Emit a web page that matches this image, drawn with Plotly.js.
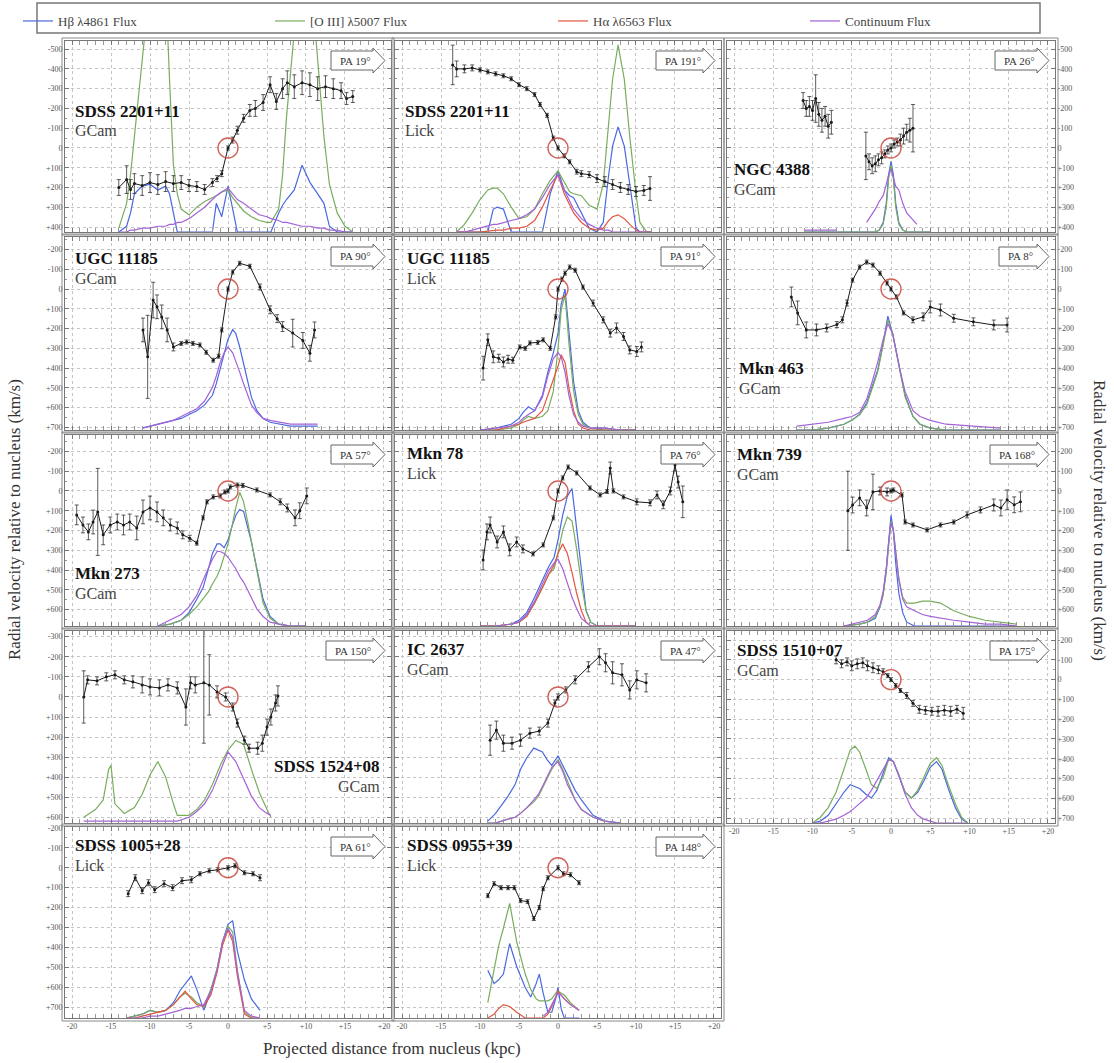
<!DOCTYPE html>
<html><head><meta charset="utf-8">
<script src="https://cdn.plot.ly/plotly-3.0.1.min.js"></script>
<style>html,body{margin:0;padding:0;background:#fff}#chart{width:1114px;height:1063px}</style>
</head><body><div id="chart"></div>
<script>
// ---------------- DATA ----------------
const galaxyNames = ["SDSS 2201+11","SDSS 2201+11","NGC 4388","UGC 11185","UGC 11185","Mkn 463","Mkn 273","Mkn 78","Mkn 739","SDSS 1524+08","IC 2637","SDSS 1510+07","SDSS 1005+28","SDSS 0955+39"];
const instruments = ["GCam","Lick","GCam","GCam","Lick","GCam","GCam","Lick","GCam","GCam","GCam","GCam","Lick","Lick"];
const paLabels = ["PA 19°","PA 191°","PA 26°","PA 90°","PA 91°","PA 8°","PA 57°","PA 76°","PA 168°","PA 150°","PA 47°","PA 175°","PA 61°","PA 148°"];
const legendNames = ["Hβ λ4861 Flux","[O III] λ5007 Flux","Hα λ6563 Flux","Continuum Flux"];
const xTickVals = [-20,-15,-10,-5,0,5,10,15,20];
const xTickText = ["-20","-15","-10","-5","0","+5","+10","+15","+20"];
const nucleusX = [0];
const nucleusV = [0];

// Panel 1: SDSS 2201+11 GCam
const p1_vx = [-14,-13,-12.5,-12,-11,-10,-9,-8,-7,-6,-5,-4,-3,-2,-1.4,-0.8,0,0.6,1.2,2,2.8,3.5,4.5,5.4,6.2,7,7.6,8.5,9.5,10.5,11.5,12.5,13.5,14.5,15.2,16];
const p1_v = [200,160,210,180,190,175,185,170,180,175,190,195,210,175,155,130,0,-40,-90,-150,-190,-200,-230,-320,-235,-300,-330,-310,-330,-320,-300,-310,-300,-290,-250,-260];
const p1_err = [40,70,50,50,50,50,50,50,40,35,30,25,25,20,15,15,10,15,20,20,30,40,40,40,40,50,60,60,60,60,60,55,50,40,30,30];
const p1_fx = [-14,-13,-12.5,-12,-11,-10,-9,-8,-7.5,-7,-6.5,-6,-5,-4,-3,-2,-1.5,-0.8,0,0.6,1.2,2,3,4,5,5.5,6.5,7,7.5,8.5,9.5,10.5,11.5,12.3,13,14,15,16];
const p1_hb = [0,0.03,0.1,0.2,0.24,0.25,0.22,0.24,0.2,0.1,0,0,0,0,0,0,0.15,0.08,0.24,0.12,0,0,0,0,0,0,0.1,0.14,0.17,0.22,0.35,0.26,0.2,0.15,0.03,0,0,0];
const p1_o3 = [0.02,0.15,0.3,0.5,0.9,1.3,1.5,1.3,0.8,0.35,0.2,0.12,0.09,0.13,0.16,0.18,0.19,0.21,0.22,0.18,0.15,0.11,0.08,0.06,0.05,0.05,0.12,0.3,0.6,1.2,1.5,1.4,0.9,0.5,0.25,0.1,0.03,0];
const p1_cont = [0,0,0.01,0.01,0.02,0.02,0.03,0.03,0.04,0.04,0.05,0.05,0.07,0.1,0.13,0.17,0.19,0.21,0.23,0.2,0.17,0.15,0.12,0.09,0.08,0.07,0.06,0.05,0.05,0.04,0.03,0.03,0.02,0.02,0.01,0.01,0,0];

// Panel 2: SDSS 2201+11 Lick
const p2_vx = [-13.5,-13,-12,-11,-10,-9,-8,-7,-6,-5,-4,-3,-2.3,-1.4,-0.6,0,0.8,1.5,2.4,3,4,5,6,7,8,9,10,11,11.8];
const p2_v = [-420,-400,-400,-405,-395,-385,-375,-365,-350,-320,-300,-270,-220,-165,-50,0,40,70,120,130,135,155,170,185,200,210,220,215,205];
const p2_err = [100,40,20,15,10,10,10,10,10,10,10,10,10,10,10,10,10,10,12,15,15,20,25,25,25,25,25,25,60];
const p2_fx = [-13,-12,-11,-10,-9,-8.3,-7.8,-7,-6,-5,-4,-3,-2,-1,0,0.8,1.5,2,3,4,5,5.8,6.5,7,7.7,8.5,9.2,10,10.5,11.4,12];
const p2_o3 = [0,0.04,0.1,0.17,0.22,0.23,0.23,0.2,0.13,0.07,0.08,0.12,0.2,0.27,0.32,0.26,0.21,0.2,0.19,0.14,0.12,0.25,0.55,0.8,0.98,0.8,0.5,0.2,0.05,0,0];
const p2_hb = [0,0,0,0,0,0.12,0.13,0.12,0,0,0,0,0,0.2,0.32,0.22,0.19,0.18,0.1,0.02,0,0.05,0.3,0.45,0.55,0.45,0.25,0.02,0,0,0];
const p2_ha = [0,0,0,0,0.005,0.01,0.01,0.01,0.02,0.02,0.03,0.06,0.13,0.22,0.3,0.2,0.14,0.1,0.05,0.02,0.01,0.02,0.06,0.08,0.09,0.07,0.04,0.01,0,0,0];
const p2_cont = [0,0,0.01,0.02,0.03,0.04,0.04,0.05,0.06,0.07,0.09,0.12,0.18,0.25,0.3,0.22,0.16,0.12,0.07,0.04,0.02,0.01,0.01,0,0,0,0,0,0,0,0];

// Panel 3: NGC 4388 GCam
const p3_vx = [-11.2,-10.8,-10.4,-10,-9.6,-9.2,-8.8,-8.4,-8,-7.6,-5.4,-3.2,-2.8,-2.4,-2,-1.6,-1.2,-0.8,-0.4,0,0.4,0.8,1.2,1.6,2,2.4,2.8];
const p3_v = [-240,-200,-210,-190,-250,-170,-140,-160,-110,-130,null,40,70,90,80,60,50,30,10,0,-20,-30,-40,-60,-80,-90,-100];
const p3_err = [40,40,50,50,120,60,60,50,60,60,0,120,40,40,40,30,30,20,20,20,20,20,30,40,40,60,120];
const p3_fx = [-11,-9,-7,-5,-3.1,-2,-1.5,-1,-0.6,-0.3,0,0.3,0.6,1,1.5,2,3.3,5];
const p3_hb = [0,0,0,0,0,0,0.01,0.05,0.15,0.3,0.37,0.3,0.15,0.05,0.01,0,0,0];
const p3_o3 = [0,0,0,0,0,0,0.01,0.04,0.13,0.28,0.35,0.28,0.13,0.04,0.01,0,0,0];
const p3_cont = [0.01,0.01,0.01,null,0.05,0.12,0.16,0.19,0.25,0.3,0.33,0.28,0.24,0.22,0.15,0.1,0.04,null];

// Panel 4: UGC 11185 GCam
const p4_vx = [-10.9,-10.3,-9.6,-9.1,-8.5,-7.8,-7,-6,-5.3,-4.5,-3.6,-2.8,-1.9,-1.2,-0.8,0,0.6,1.5,2.8,4.1,5.4,6.3,7,8.3,9.6,10.5,11.1];
const p4_v = [207,343,56,90,141,207,293,275,268,275,283,320,360,340,207,0,-86,-130,-115,-10,105,150,190,223,260,325,207];
const p4_err = [60,210,90,60,60,60,20,10,10,10,10,10,10,10,10,10,10,10,10,15,20,20,25,70,40,40,40];
const p4_fx = [-11,-10,-9,-8,-7,-6,-5,-4,-3,-2,-1.5,-1,-0.5,0,0.6,1,1.5,2,2.5,3,3.7,4.5,5.4,6.5,8,10,11.5];
const p4_hb = [0.01,0.02,0.03,0.04,0.05,0.06,0.08,0.1,0.13,0.18,0.24,0.32,0.4,0.47,0.52,0.5,0.43,0.34,0.25,0.17,0.1,0.06,0.04,0.03,0.02,0.02,0.02];
const p4_cont = [0.01,0.02,0.03,0.04,0.05,0.07,0.09,0.11,0.15,0.22,0.28,0.35,0.4,0.43,0.4,0.36,0.3,0.24,0.18,0.13,0.09,0.06,0.05,0.04,0.03,0.03,0.03];

// Panel 5: UGC 11185 Lick
const p5_vx = [-9.6,-9,-8.3,-7.6,-7,-6.4,-5.8,-4.9,-4.2,-3.6,-2.6,-1.9,-1,-0.3,0,0.5,0.9,1.5,2.2,3.2,4.5,5.8,6.7,7.5,8.4,9.2,10.1,10.7];
const p5_v = [400,257,343,350,369,355,360,293,300,273,270,257,300,141,0,-50,-80,-111,-95,-10,71,156,223,197,240,308,316,293];
const p5_err = [60,30,30,20,25,20,15,10,10,10,10,10,10,10,10,10,10,10,10,10,15,15,20,25,20,20,25,25];
const p5_fx = [-10,-8,-6,-5,-4.5,-3.8,-3,-2,-1.3,-0.6,0,0.4,0.9,1.4,2,2.6,3.2,4.1,6,8,10];
const p5_hb = [0,0.01,0.03,0.06,0.09,0.12,0.1,0.18,0.3,0.4,0.5,0.65,0.73,0.5,0.25,0.1,0.04,0.01,0.01,0,0];
const p5_o3 = [0,0,0.01,0.03,0.05,0.07,0.06,0.07,0.1,0.2,0.42,0.62,0.7,0.45,0.2,0.08,0.03,0.01,0,0,0];
const p5_ha = [0,0,0.02,0.03,0.04,0.05,0.06,0.1,0.18,0.25,0.33,0.39,0.35,0.22,0.1,0.03,0.01,0,0,0,0];
const p5_cont = [0,0.01,0.02,0.04,0.06,0.08,0.1,0.17,0.28,0.37,0.4,0.38,0.3,0.18,0.08,0.04,0.02,0.01,0.01,0,0];

// Panel 6: Mkn 463 GCam
const p6_vx = [-12.7,-11.9,-10.8,-9.5,-8.2,-6.9,-6.2,-5.6,-4.9,-4,-3.1,-2.3,-1.4,-0.5,0,0.7,1.6,2.8,4.1,5,6.3,8,10.5,13.1,14.8];
const p6_v = [40,121,207,207,197,180,156,71,-45,-111,-136,-121,-80,-30,0,40,121,156,141,91,106,148,166,182,182];
const p6_err = [50,60,40,30,20,15,15,15,10,10,10,10,10,10,10,10,10,15,20,30,30,20,20,25,35];
const p6_fx = [-12,-10,-8,-6,-5,-4,-3.1,-2.4,-1.7,-1,-0.4,0.2,0.8,1.2,1.8,2.8,3.7,5,7,10,14];
const p6_hb = [0,0,0.01,0.03,0.05,0.08,0.14,0.22,0.31,0.45,0.59,0.5,0.38,0.31,0.18,0.07,0.03,0.01,0,0,0];
const p6_o3 = [0,0,0.01,0.03,0.05,0.08,0.13,0.21,0.3,0.44,0.57,0.5,0.37,0.3,0.17,0.07,0.03,0.01,0,0,0];
const p6_cont = [0.02,0.03,0.04,0.06,0.07,0.09,0.16,0.25,0.35,0.47,0.55,0.5,0.38,0.3,0.2,0.1,0.07,0.05,0.03,0.02,0.01];

// Panel 7: Mkn 273 GCam
const p7_vx = [-19.4,-18.6,-17.9,-17.3,-16.7,-16,-15.1,-14.2,-13.4,-12.6,-11.7,-10.9,-10,-9.1,-8.3,-7.4,-6.5,-5.8,-4.9,-4,-3.2,-2.7,-1.9,-1,-0.4,0,0.3,1.2,1.9,3.7,5.4,6.7,7.6,8.6,9.2,10.1];
const p7_v = [121,172,207,157,106,222,172,157,172,157,187,106,86,106,136,172,187,222,239,264,136,55,30,25,5,0,-20,-30,-28,-5,20,55,86,136,100,25];
const p7_err = [50,40,40,60,220,50,40,40,50,40,60,60,60,50,40,30,30,20,15,10,10,10,10,10,10,10,10,10,10,10,10,15,20,40,40,40];
const p7_fx = [-9,-7.4,-6,-5,-4,-3.2,-2.5,-2,-1.4,-1,-0.5,0,0.5,1,1.5,2,2.5,3,3.7,4.5,5.4,6.5,8,10];
const p7_o3 = [0,0.01,0.03,0.06,0.1,0.14,0.18,0.22,0.26,0.3,0.36,0.43,0.52,0.62,0.7,0.65,0.55,0.44,0.28,0.12,0.04,0.01,0,0];
const p7_hb = [0,0.01,0.03,0.07,0.14,0.2,0.3,0.38,0.43,0.43,0.41,0.45,0.52,0.58,0.61,0.6,0.52,0.44,0.3,0.14,0.05,0.01,0,0];
const p7_cont = [0,0.03,0.06,0.1,0.16,0.24,0.3,0.35,0.39,0.39,0.38,0.36,0.33,0.3,0.26,0.23,0.19,0.15,0.09,0.05,0.02,0.01,0,0];

// Panel 8: Mkn 78 Lick
const p8_vx = [-9.6,-9.1,-8.7,-7.8,-7,-6.2,-5.3,-4.5,-3.2,-1.9,-0.6,0,0.6,1.3,2.4,4.1,5.4,6.3,6.7,7.1,8.4,10.1,11.8,12.7,13.5,14.4,15,15.4,16];
const p8_v = [349,207,172,258,207,298,258,293,318,273,136,0,-66,-121,-91,-15,20,3,-116,0,30,55,60,20,70,0,-131,-45,55];
const p8_err = [50,40,40,30,30,30,25,20,10,10,10,10,10,10,10,10,10,10,30,10,10,15,15,20,20,20,30,30,80];
const p8_fx = [-10,-8,-6,-5,-4,-3,-2,-1.2,-0.5,0,0.6,1.2,1.8,2.4,3,3.6,4.2,5,7,10];
const p8_hb = [0,0,0.01,0.03,0.07,0.15,0.24,0.31,0.36,0.45,0.58,0.68,0.72,0.5,0.27,0.08,0.02,0,0,0];
const p8_o3 = [0,0,0.01,0.02,0.05,0.12,0.2,0.27,0.3,0.38,0.5,0.57,0.55,0.4,0.22,0.08,0.02,0,0,0];
const p8_ha = [0,0,0.01,0.02,0.05,0.12,0.2,0.27,0.32,0.38,0.43,0.38,0.28,0.17,0.08,0.02,0,0,0,0];
const p8_cont = [0,0,0.01,0.02,0.06,0.13,0.22,0.29,0.33,0.35,0.3,0.22,0.15,0.09,0.04,0.02,0,0,0,0];

// Panel 9: Mkn 739 GCam
const p9_vx = [-5.5,-4.9,-4,-3.1,-2.3,-1.4,-0.5,0,0.3,1.4,1.8,2.8,4.6,6.3,8,9.7,11.4,13.1,14,14.8,15.7,16.5];
const p9_v = [100,71,35,86,5,0,5,0,-5,20,157,172,197,172,157,121,96,71,86,45,70,55];
const p9_err = [200,40,40,40,90,20,20,10,10,10,10,10,10,10,10,15,15,30,40,50,40,50];
const p9_fx = [-6,-4,-3,-2,-1.4,-1,-0.6,-0.3,0,0.3,0.6,1,1.5,2,3,4,5,6.3,8,10,12,14,16];
const p9_hb = [0,0.01,0.02,0.04,0.1,0.17,0.3,0.45,0.58,0.5,0.33,0.17,0.07,0.02,0,0,0,0,0,0,0,0,0];
const p9_o3 = [0,0.01,0.02,0.05,0.1,0.16,0.28,0.42,0.55,0.5,0.38,0.25,0.15,0.12,0.12,0.13,0.13,0.12,0.08,0.05,0.03,0.02,0.01];
const p9_cont = [0,0.02,0.03,0.06,0.11,0.18,0.3,0.44,0.54,0.5,0.38,0.24,0.14,0.1,0.08,0.06,0.05,0.04,0.03,0.02,0.01,0.01,0];

// Panel 10: SDSS 1524+08 GCam
const p10_vx = [-18.5,-18,-16.8,-15.6,-14.5,-13.3,-12.2,-11,-10,-8.8,-7.7,-6.5,-5.4,-4.8,-4.2,-3.1,-2.4,-1.4,-0.3,0.6,1.2,2.1,2.7,3.8,4.4,5,5.5,6.1,6.4];
const p10_v = [0,-85,-80,-100,-110,-85,-75,-60,-50,-45,-60,-45,50,-70,-60,-70,-60,-25,0,50,130,215,255,255,230,150,100,30,-5];
const p10_err = [130,20,20,20,20,20,30,40,40,40,30,30,90,30,40,300,150,30,20,20,20,20,20,30,40,40,40,40,50];
const p10_fx = [-18.5,-17,-16,-15.3,-15,-14.5,-13.3,-12,-11,-10,-9,-8,-7,-6.5,-5,-4,-3,-2,-1,0,1,2,3,4,5,5.5];
const p10_o3 = [0.03,0.07,0.12,0.28,0.3,0.1,0.05,0.08,0.15,0.25,0.32,0.24,0.1,0.04,0.04,0.07,0.12,0.2,0.3,0.38,0.43,0.41,0.28,0.16,0.07,0.03];
const p10_cont = [0.01,0.01,0.01,0.01,0.01,0.01,0.01,0.01,0.01,0.01,0.01,0.01,0.01,0.01,0.03,0.06,0.1,0.17,0.27,0.37,0.32,0.23,0.14,0.08,0.05,0.04];

// Panel 11: IC 2637 GCam
const p11_vx = [-8.7,-7.9,-7,-5.9,-4.8,-3.6,-2.4,-1.3,-0.4,0,1,2.2,3.9,5.3,6.1,7,8.2,9.2,10.1,11.3];
const p11_v = [215,165,230,230,215,180,170,130,30,0,-35,-85,-150,-200,-170,-120,-110,-35,-85,-70];
const p11_err = [75,45,40,30,30,25,20,20,15,15,15,20,25,40,45,55,55,45,45,45];
const p11_fx = [-9,-8,-6.4,-5.5,-4.8,-4,-3.1,-2.5,-2,-1.4,-0.8,0,0.6,1.2,2.2,3,4.5,6,8];
const p11_hb = [0.01,0.05,0.14,0.2,0.28,0.34,0.39,0.38,0.37,0.33,0.3,0.35,0.3,0.25,0.17,0.12,0.04,0.01,0];
const p11_o3 = [0,0,0.02,0.03,0.05,0.08,0.11,0.14,0.18,0.23,0.28,0.33,0.28,0.22,0.12,0.07,0.03,0.01,0];
const p11_cont = [0,0,0.02,0.03,0.05,0.08,0.12,0.15,0.19,0.24,0.29,0.32,0.27,0.2,0.12,0.07,0.03,0.01,0];

// Panel 12: SDSS 1510+07 GCam
const p12_vx = [-7,-6.3,-5.6,-5,-4.3,-3.6,-3,-2.3,-1.6,-1,-0.4,0,0.6,1.2,2,2.8,3.6,4.4,5.2,6,6.8,7.6,8.4,9.2];
const p12_v = [-100,-80,-90,-70,-80,-85,-70,-60,-50,-40,-20,0,30,55,80,120,150,155,160,160,155,160,150,170];
const p12_err = [20,20,20,25,25,25,25,25,20,15,10,10,10,10,15,15,20,20,20,25,25,25,20,30];
const p12_fx = [-10,-9,-8,-7,-6,-5.2,-4.6,-4,-3.2,-2.5,-1.8,-1,-0.3,0.3,1,1.8,2.6,3.4,4.2,5,5.8,6.5,7.3,8.2,9,9.8];
const p12_o3 = [0,0.03,0.08,0.16,0.28,0.38,0.4,0.37,0.28,0.2,0.18,0.24,0.33,0.32,0.25,0.16,0.13,0.17,0.24,0.31,0.34,0.3,0.2,0.1,0.03,0];
const p12_hb = [0,0.01,0.04,0.1,0.16,0.2,0.19,0.18,0.15,0.13,0.17,0.26,0.34,0.32,0.25,0.16,0.13,0.16,0.22,0.29,0.32,0.28,0.18,0.08,0.02,0];
const p12_cont = [0,0,0.01,0.02,0.04,0.06,0.08,0.1,0.13,0.17,0.22,0.28,0.33,0.32,0.25,0.15,0.08,0.04,0.02,0.01,0,0,0,0,0,0];

// Panel 13: SDSS 1005+28 Lick
const p13_vx = [-12.8,-11.9,-11,-10.2,-9.4,-8.2,-7.1,-5.9,-4.7,-3.6,-2.4,-1.3,0,0.9,2.1,3.2,4.1];
const p13_v = [130,50,115,75,110,80,100,65,60,30,15,10,0,-10,25,30,50];
const p13_err = [15,15,15,15,15,15,15,15,15,10,10,10,10,10,10,10,15];
const p13_fx = [-13,-12,-11,-10,-9,-8,-7,-6.2,-5.5,-4.7,-4,-3.1,-2.2,-1.4,-0.7,0,0.6,1.2,2.1,3,4.1];
const p13_hb = [0,0.01,0.02,0.04,0.03,0.04,0.08,0.14,0.18,0.22,0.15,0.04,0.14,0.25,0.4,0.49,0.51,0.35,0.2,0.1,0.04];
const p13_o3 = [0,0.01,0.02,0.04,0.03,0.04,0.07,0.11,0.13,0.11,0.08,0.06,0.15,0.26,0.4,0.48,0.45,0.25,0.03,0,0];
const p13_ha = [0,0,0.01,0.02,0.03,0.04,0.07,0.11,0.14,0.1,0.07,0.06,0.12,0.24,0.38,0.46,0.4,0.22,0.02,0,0];
const p13_cont = [0,0,0,0.01,0.01,0.02,0.03,0.04,0.05,0.05,0.06,0.07,0.14,0.25,0.4,0.47,0.42,0.24,0.04,0.01,0];

// Panel 14: SDSS 0955+39 Lick
const p14_vx = [-9,-8.2,-7.3,-6.4,-5.6,-4.8,-3.9,-3.1,-2.4,-1.9,-1.3,0,0.7,1.6,2.7];
const p14_v = [140,80,100,100,100,165,170,255,200,105,50,0,30,35,75];
const p14_err = [10,10,10,10,10,10,10,10,10,10,10,10,10,10,10];
const p14_fx = [-9,-8.2,-7.6,-7,-6.2,-5.3,-4.2,-3.5,-2.8,-2.4,-1.9,-1.3,-0.8,-0.3,0,0.4,0.8,1.6,2.7];
const p14_o3 = [0.08,0.25,0.38,0.47,0.6,0.4,0.23,0.15,0.1,0.09,0.09,0.09,0.1,0.13,0.14,0.13,0.12,0.08,0.04];
const p14_hb = [0.25,0.18,0.2,0.23,0.39,0.27,0.16,0.11,0.18,0.23,0.13,0.03,0.03,0.1,0.16,0.05,0,0,0];
const p14_ha = [0,0.02,0.05,0.07,0.06,0.03,0,0,0,0,0,0.02,0.06,0.11,0.14,0.12,0.1,0.07,0.04];
const p14_cont = [null,null,null,null,null,null,null,null,null,null,0.01,0.03,0.07,0.11,0.13,0.12,0.1,0.07,0.04];

// ---------------- LAYOUT GEOMETRY ----------------
const W = 1114, H = 1063;
const colPx = [[65,391],[395,721],[727,1055]];
const rowPx = [[41,232],[237,430],[435,626],[631,823],[827,1018]];
const rowRange = [[425,-541],[713,-263],[683,-283],[627,-328],[755,-205]];
const col3Row4Range = [725,-246];

const panels = [
 {vx:p1_vx,v:p1_v,err:p1_err,fx:p1_fx,hb:p1_hb,o3:p1_o3,ha:null,cont:p1_cont,row:0,col:0,nx:73,ny:111,ax:'left'},
 {vx:p2_vx,v:p2_v,err:p2_err,fx:p2_fx,hb:p2_hb,o3:p2_o3,ha:p2_ha,cont:p2_cont,row:0,col:1,nx:403,ny:111,ax:'left'},
 {vx:p3_vx,v:p3_v,err:p3_err,fx:p3_fx,hb:p3_hb,o3:p3_o3,ha:null,cont:p3_cont,row:0,col:2,nx:732,ny:170,ax:'left'},
 {vx:p4_vx,v:p4_v,err:p4_err,fx:p4_fx,hb:p4_hb,o3:null,ha:null,cont:p4_cont,row:1,col:0,nx:73,ny:258,ax:'left'},
 {vx:p5_vx,v:p5_v,err:p5_err,fx:p5_fx,hb:p5_hb,o3:p5_o3,ha:p5_ha,cont:p5_cont,row:1,col:1,nx:405,ny:258,ax:'left'},
 {vx:p6_vx,v:p6_v,err:p6_err,fx:p6_fx,hb:p6_hb,o3:p6_o3,ha:null,cont:p6_cont,row:1,col:2,nx:737,ny:368,ax:'left'},
 {vx:p7_vx,v:p7_v,err:p7_err,fx:p7_fx,hb:p7_hb,o3:p7_o3,ha:null,cont:p7_cont,row:2,col:0,nx:73,ny:573,ax:'left'},
 {vx:p8_vx,v:p8_v,err:p8_err,fx:p8_fx,hb:p8_hb,o3:p8_o3,ha:p8_ha,cont:p8_cont,row:2,col:1,nx:405,ny:453,ax:'left'},
 {vx:p9_vx,v:p9_v,err:p9_err,fx:p9_fx,hb:p9_hb,o3:p9_o3,ha:null,cont:p9_cont,row:2,col:2,nx:735,ny:454,ax:'left'},
 {vx:p10_vx,v:p10_v,err:p10_err,fx:p10_fx,hb:null,o3:p10_o3,ha:null,cont:p10_cont,row:3,col:0,nx:382,ny:766,ax:'right'},
 {vx:p11_vx,v:p11_v,err:p11_err,fx:p11_fx,hb:p11_hb,o3:p11_o3,ha:null,cont:p11_cont,row:3,col:1,nx:405,ny:649,ax:'left'},
 {vx:p12_vx,v:p12_v,err:p12_err,fx:p12_fx,hb:p12_hb,o3:p12_o3,ha:null,cont:p12_cont,row:3,col:2,nx:735,ny:650,ax:'left'},
 {vx:p13_vx,v:p13_v,err:p13_err,fx:p13_fx,hb:p13_hb,o3:p13_o3,ha:p13_ha,cont:p13_cont,row:4,col:0,nx:73,ny:845,ax:'left'},
 {vx:p14_vx,v:p14_v,err:p14_err,fx:p14_fx,hb:p14_hb,o3:p14_o3,ha:p14_ha,cont:p14_cont,row:4,col:1,nx:405,ny:845,ax:'left'}
];
const bottomPanels = [12,13,14];

const lineColors = {hb:'#4a68e0', o3:'#78ad5e', ha:'#e4553f', cont:'#a562d8'};
const lineKeys = ['hb','o3','ha','cont'];
const legendIds = ['legend','legend2','legend3','legend4'];
const legendXpx = [18, 270, 553, 805];
const SERIF = 'Liberation Serif, DejaVu Serif, serif';

const px = x => x / W;
const py = y => 1 - y / H;

const data = [];
const layout = {
  width: W, height: H,
  margin: {l:0, r:0, t:0, b:0},
  paper_bgcolor: '#fff', plot_bgcolor: '#fff',
  font: {family: SERIF, color: '#333'},
  showlegend: true,
  shapes: [], annotations: []
};
legendIds.forEach((id, k) => {
  layout[id] = {orientation:'h', x: px(legendXpx[k]), y: py(6), xanchor:'left', yanchor:'top',
    font:{family:SERIF, size:13, color:'#444'}, bgcolor:'rgba(0,0,0,0)', borderwidth:0, itemwidth:30};
});
const legendShown = {};

panels.forEach((p, i) => {
  const n = i + 1;
  const xs = n === 1 ? '' : String(n);
  const xa = 'x' + xs;
  const fy = 'y' + xs;
  const vyN = 14 + n;
  const vy = 'y' + vyN;
  const [c0, c1] = colPx[p.col];
  const [r0, r1] = rowPx[p.row];
  const vr = (p.row === 3 && p.col === 2) ? col3Row4Range : rowRange[p.row];

  const tv = [], tt = [];
  const vmin = Math.min(vr[0], vr[1]), vmax = Math.max(vr[0], vr[1]);
  for (let t = Math.ceil(vmin/100)*100; t <= vmax; t += 100) { tv.push(t); tt.push(t > 0 ? '+' + t : String(t)); }

  layout['xaxis' + xs] = {
    domain: [px(c0), px(c1)], anchor: fy, range: [-20.9, 20.9],
    tickmode: 'array', tickvals: xTickVals, ticktext: xTickText,
    showticklabels: bottomPanels.includes(n),
    tickfont: {size: 8, color: '#555', family: SERIF},
    showgrid: true, gridcolor: '#c4c4c4', griddash: 'dot', gridwidth: 1,
    zeroline: false, showline: true, mirror: 'allticks', linecolor: '#777', linewidth: 1,
    ticks: 'inside', ticklen: 4, tickcolor: '#777',
    minor: {tickmode: 'linear', tick0: 0, dtick: 1, ticks: 'inside', ticklen: 2, tickcolor: '#999', showgrid: false},
    fixedrange: true
  };
  layout['yaxis' + xs] = {
    domain: [py(r1), py(r0)], anchor: xa, range: [0, 1],
    showgrid: false, zeroline: false, showticklabels: false, ticks: '', showline: false, fixedrange: true
  };
  layout['yaxis' + vyN] = {
    overlaying: fy, anchor: xa, side: p.col === 2 ? 'right' : 'left',
    range: vr, tickmode: 'array', tickvals: tv, ticktext: tt,
    showticklabels: p.col !== 1,
    tickfont: {size: 8, color: '#555', family: SERIF},
    showgrid: true, gridcolor: '#c4c4c4', griddash: 'dot', gridwidth: 1,
    zeroline: false, showline: true, mirror: 'allticks', linecolor: '#777', linewidth: 1,
    ticks: 'inside', ticklen: 4, tickcolor: '#777',
    minor: {tickmode: 'linear', tick0: 0, dtick: 50, ticks: 'inside', ticklen: 2, tickcolor: '#999', showgrid: false},
    fixedrange: true
  };

  lineKeys.forEach((k, ki) => {
    if (!p[k]) return;
    const show = !legendShown[k];
    legendShown[k] = true;
    data.push({
      type: 'scatter', mode: 'lines', x: p.fx, y: p[k], xaxis: xa, yaxis: fy,
      name: legendNames[ki], legendgroup: k, legend: legendIds[ki], showlegend: show,
      line: {color: lineColors[k], width: 1.2}, hoverinfo: 'skip'
    });
  });

  data.push({
    type: 'scatter', mode: 'lines+markers', x: p.vx, y: p.v, xaxis: xa, yaxis: vy,
    showlegend: false, line: {color: '#1a1a1a', width: 1},
    marker: {color: '#1a1a1a', size: 3},
    error_y: {type: 'data', array: p.err, visible: true, color: '#333', thickness: 0.8, width: 2},
    hoverinfo: 'skip'
  });
  data.push({
    type: 'scatter', mode: 'markers', x: nucleusX, y: nucleusV, xaxis: xa, yaxis: vy,
    showlegend: false, hoverinfo: 'skip',
    marker: {symbol: 'circle-open', size: 20, color: 'rgba(200,70,60,0.85)', line: {width: 1.4, color: 'rgba(200,70,60,0.85)'}}
  });

  layout.shapes.push({type: 'rect', xref: 'paper', yref: 'paper',
    x0: px(c0 - 3), x1: px(c1 + 3), y0: py(r1 + 3), y1: py(r0 - 3),
    line: {color: '#888', width: 1}, fillcolor: 'rgba(0,0,0,0)', layer: 'above'});

  const lab = paLabels[i];
  const rw = lab.length >= 7 ? 47 : (lab.length <= 5 ? 38 : 42);
  const tip = c1 - 6, bx1 = tip - 12, bx0 = bx1 - rw;
  const by0 = r0 + 10, by1 = r0 + 29, bym = (by0 + by1) / 2;
  layout.shapes.push({type: 'path', xref: 'paper', yref: 'paper',
    path: `M ${px(bx0)},${py(by0)} L ${px(bx1)},${py(by0)} L ${px(bx1)},${py(by0-3)} L ${px(tip)},${py(bym)} L ${px(bx1)},${py(by1+3)} L ${px(bx1)},${py(by1)} L ${px(bx0)},${py(by1)} Z`,
    line: {color: '#666', width: 1}, fillcolor: '#fff', layer: 'above'});
  layout.annotations.push({xref: 'paper', yref: 'paper', x: px((bx0 + bx1) / 2 + 3), y: py(bym),
    text: lab, showarrow: false, xanchor: 'center', yanchor: 'middle',
    font: {family: SERIF, size: 11, color: '#333'}});

  layout.annotations.push({xref: 'paper', yref: 'paper', x: px(p.nx), y: py(p.ny),
    text: '<b>' + galaxyNames[i] + '</b>', showarrow: false, xanchor: p.ax, yanchor: 'middle',
    font: {family: SERIF, size: 17, color: '#111'}});
  layout.annotations.push({xref: 'paper', yref: 'paper', x: px(p.nx), y: py(p.ny + 20),
    text: instruments[i], showarrow: false, xanchor: p.ax, yanchor: 'middle',
    font: {family: SERIF, size: 16, color: '#444'}});
});

layout.shapes.push({type: 'rect', xref: 'paper', yref: 'paper',
  x0: px(37), x1: px(1040), y0: py(33), y1: py(3),
  line: {color: '#777', width: 1.5}, fillcolor: 'rgba(0,0,0,0)'});

layout.annotations.push({xref: 'paper', yref: 'paper', x: px(14), y: py(520), text: 'Radial velocity relative to nucleus (km/s)',
  textangle: -90, showarrow: false, xanchor: 'center', yanchor: 'middle', font: {family: SERIF, size: 17, color: '#333'}});
layout.annotations.push({xref: 'paper', yref: 'paper', x: px(1100), y: py(520), text: 'Radial velocity relative to nucleus (km/s)',
  textangle: 90, showarrow: false, xanchor: 'center', yanchor: 'middle', font: {family: SERIF, size: 17, color: '#333'}});
layout.annotations.push({xref: 'paper', yref: 'paper', x: px(392), y: py(1048), text: 'Projected distance from nucleus (kpc)',
  showarrow: false, xanchor: 'center', yanchor: 'middle', font: {family: SERIF, size: 17, color: '#333'}});

Plotly.newPlot('chart', data, layout, {staticPlot: true, displayModeBar: false});
</script>
</body></html>
